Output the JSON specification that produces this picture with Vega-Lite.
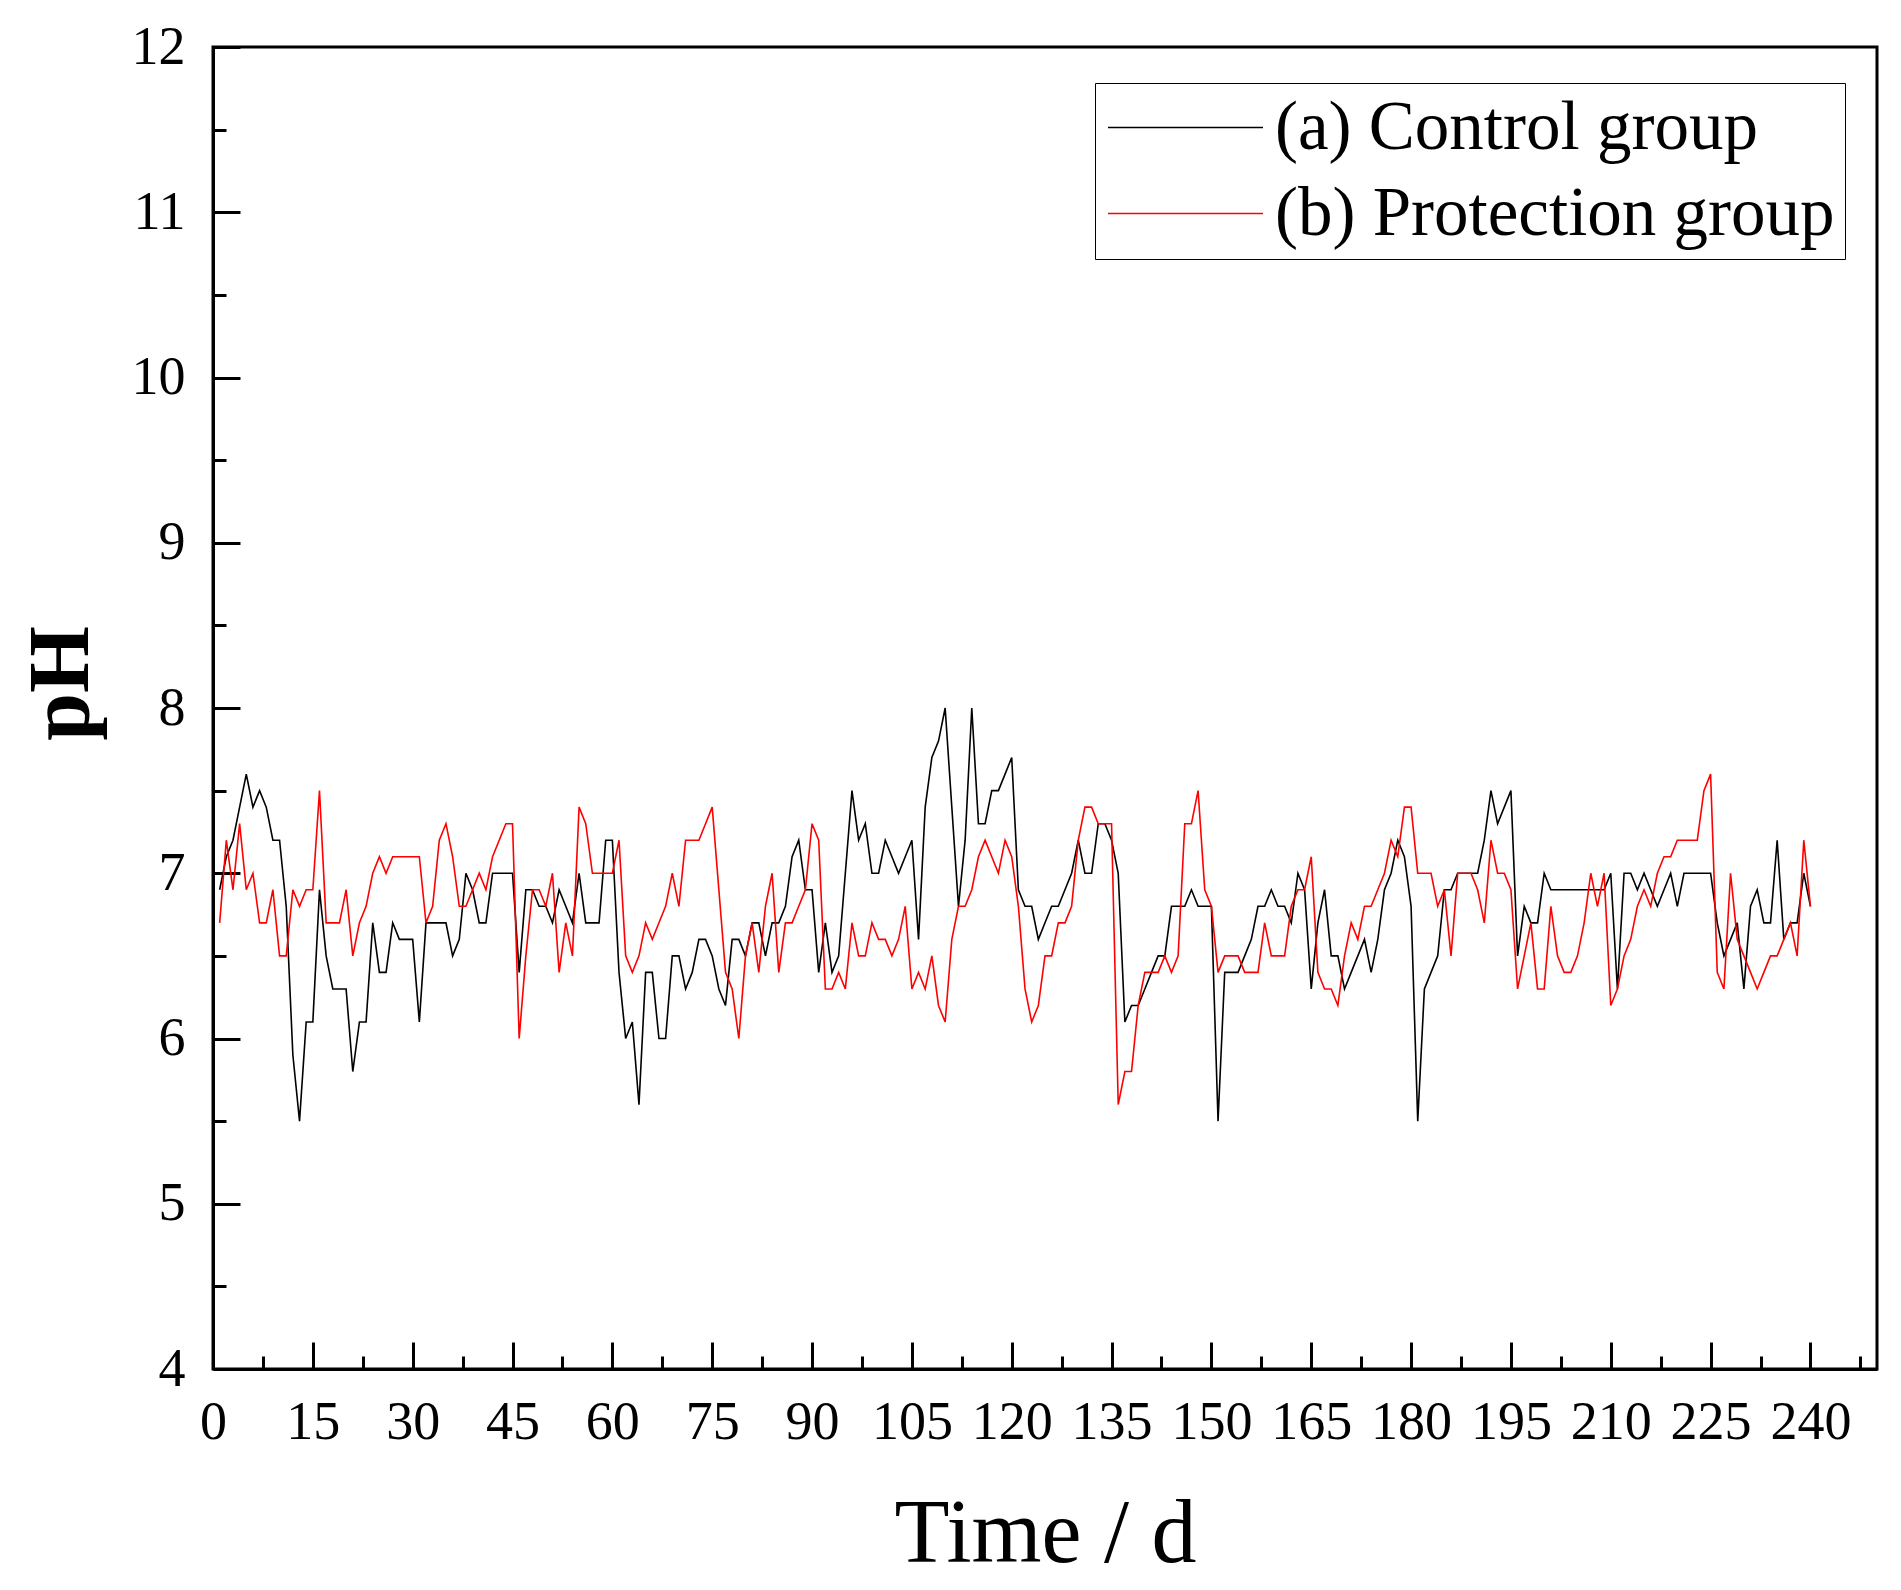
{
  "$schema": "https://vega.github.io/schema/vega-lite/v6.json",
  "width": 1664,
  "height": 1322,
  "autosize": {"type": "none"},
  "padding": {"left": 213, "top": 47, "right": 24, "bottom": 221},
  "background": "white",
  "config": {
    "view": {"stroke": "black", "strokeWidth": 3},
    "axis": {
      "labelFont": "Liberation Serif",
      "titleFont": "Liberation Serif",
      "labelColor": "black",
      "titleColor": "black",
      "domainColor": "black",
      "domainWidth": 3,
      "tickColor": "black",
      "tickWidth": 3,
      "grid": false,
      "labelOverlap": false,
      "labelBound": false,
      "labelFlush": false
    },
    "legend": {
      "labelFont": "Liberation Serif",
      "labelColor": "black"
    }
  },
  "data": {
    "values": [
      {"day":1,"c":6.9,"p":6.7},{"day":2,"c":7.1,"p":7.2},{"day":3,"c":7.2,"p":6.9},{"day":4,"c":7.4,"p":7.3},{"day":5,"c":7.6,"p":6.9},
      {"day":6,"c":7.4,"p":7.0},{"day":7,"c":7.5,"p":6.7},{"day":8,"c":7.4,"p":6.7},{"day":9,"c":7.2,"p":6.9},{"day":10,"c":7.2,"p":6.5},
      {"day":11,"c":6.8,"p":6.5},{"day":12,"c":5.9,"p":6.9},{"day":13,"c":5.5,"p":6.8},{"day":14,"c":6.1,"p":6.9},{"day":15,"c":6.1,"p":6.9},
      {"day":16,"c":6.9,"p":7.5},{"day":17,"c":6.5,"p":6.7},{"day":18,"c":6.3,"p":6.7},{"day":19,"c":6.3,"p":6.7},{"day":20,"c":6.3,"p":6.9},
      {"day":21,"c":5.8,"p":6.5},{"day":22,"c":6.1,"p":6.7},{"day":23,"c":6.1,"p":6.8},{"day":24,"c":6.7,"p":7.0},{"day":25,"c":6.4,"p":7.1},
      {"day":26,"c":6.4,"p":7.0},{"day":27,"c":6.7,"p":7.1},{"day":28,"c":6.6,"p":7.1},{"day":29,"c":6.6,"p":7.1},{"day":30,"c":6.6,"p":7.1},
      {"day":31,"c":6.1,"p":7.1},{"day":32,"c":6.7,"p":6.7},{"day":33,"c":6.7,"p":6.8},{"day":34,"c":6.7,"p":7.2},{"day":35,"c":6.7,"p":7.3},
      {"day":36,"c":6.5,"p":7.1},{"day":37,"c":6.6,"p":6.8},{"day":38,"c":7.0,"p":6.8},{"day":39,"c":6.9,"p":6.9},{"day":40,"c":6.7,"p":7.0},
      {"day":41,"c":6.7,"p":6.9},{"day":42,"c":7.0,"p":7.1},{"day":43,"c":7.0,"p":7.2},{"day":44,"c":7.0,"p":7.3},{"day":45,"c":7.0,"p":7.3},
      {"day":46,"c":6.4,"p":6.0},{"day":47,"c":6.9,"p":6.5},{"day":48,"c":6.9,"p":6.9},{"day":49,"c":6.8,"p":6.9},{"day":50,"c":6.8,"p":6.8},
      {"day":51,"c":6.7,"p":7.0},{"day":52,"c":6.9,"p":6.4},{"day":53,"c":6.8,"p":6.7},{"day":54,"c":6.7,"p":6.5},{"day":55,"c":7.0,"p":7.4},
      {"day":56,"c":6.7,"p":7.3},{"day":57,"c":6.7,"p":7.0},{"day":58,"c":6.7,"p":7.0},{"day":59,"c":7.2,"p":7.0},{"day":60,"c":7.2,"p":7.0},
      {"day":61,"c":6.4,"p":7.2},{"day":62,"c":6.0,"p":6.5},{"day":63,"c":6.1,"p":6.4},{"day":64,"c":5.6,"p":6.5},{"day":65,"c":6.4,"p":6.7},
      {"day":66,"c":6.4,"p":6.6},{"day":67,"c":6.0,"p":6.7},{"day":68,"c":6.0,"p":6.8},{"day":69,"c":6.5,"p":7.0},{"day":70,"c":6.5,"p":6.8},
      {"day":71,"c":6.3,"p":7.2},{"day":72,"c":6.4,"p":7.2},{"day":73,"c":6.6,"p":7.2},{"day":74,"c":6.6,"p":7.3},{"day":75,"c":6.5,"p":7.4},
      {"day":76,"c":6.3,"p":6.9},{"day":77,"c":6.2,"p":6.4},{"day":78,"c":6.6,"p":6.3},{"day":79,"c":6.6,"p":6.0},{"day":80,"c":6.5,"p":6.5},
      {"day":81,"c":6.7,"p":6.7},{"day":82,"c":6.7,"p":6.4},{"day":83,"c":6.5,"p":6.8},{"day":84,"c":6.7,"p":7.0},{"day":85,"c":6.7,"p":6.4},
      {"day":86,"c":6.8,"p":6.7},{"day":87,"c":7.1,"p":6.7},{"day":88,"c":7.2,"p":6.8},{"day":89,"c":6.9,"p":6.9},{"day":90,"c":6.9,"p":7.3},
      {"day":91,"c":6.4,"p":7.2},{"day":92,"c":6.7,"p":6.3},{"day":93,"c":6.4,"p":6.3},{"day":94,"c":6.5,"p":6.4},{"day":95,"c":7.0,"p":6.3},
      {"day":96,"c":7.5,"p":6.7},{"day":97,"c":7.2,"p":6.5},{"day":98,"c":7.3,"p":6.5},{"day":99,"c":7.0,"p":6.7},{"day":100,"c":7.0,"p":6.6},
      {"day":101,"c":7.2,"p":6.6},{"day":102,"c":7.1,"p":6.5},{"day":103,"c":7.0,"p":6.6},{"day":104,"c":7.1,"p":6.8},{"day":105,"c":7.2,"p":6.3},
      {"day":106,"c":6.6,"p":6.4},{"day":107,"c":7.4,"p":6.3},{"day":108,"c":7.7,"p":6.5},{"day":109,"c":7.8,"p":6.2},{"day":110,"c":8.0,"p":6.1},
      {"day":111,"c":7.4,"p":6.6},{"day":112,"c":6.8,"p":6.8},{"day":113,"c":7.2,"p":6.8},{"day":114,"c":8.0,"p":6.9},{"day":115,"c":7.3,"p":7.1},
      {"day":116,"c":7.3,"p":7.2},{"day":117,"c":7.5,"p":7.1},{"day":118,"c":7.5,"p":7.0},{"day":119,"c":7.6,"p":7.2},{"day":120,"c":7.7,"p":7.1},
      {"day":121,"c":6.9,"p":6.8},{"day":122,"c":6.8,"p":6.3},{"day":123,"c":6.8,"p":6.1},{"day":124,"c":6.6,"p":6.2},{"day":125,"c":6.7,"p":6.5},
      {"day":126,"c":6.8,"p":6.5},{"day":127,"c":6.8,"p":6.7},{"day":128,"c":6.9,"p":6.7},{"day":129,"c":7.0,"p":6.8},{"day":130,"c":7.2,"p":7.2},
      {"day":131,"c":7.0,"p":7.4},{"day":132,"c":7.0,"p":7.4},{"day":133,"c":7.3,"p":7.3},{"day":134,"c":7.3,"p":7.3},{"day":135,"c":7.2,"p":7.3},
      {"day":136,"c":7.0,"p":5.6},{"day":137,"c":6.1,"p":5.8},{"day":138,"c":6.2,"p":5.8},{"day":139,"c":6.2,"p":6.2},{"day":140,"c":6.3,"p":6.4},
      {"day":141,"c":6.4,"p":6.4},{"day":142,"c":6.5,"p":6.4},{"day":143,"c":6.5,"p":6.5},{"day":144,"c":6.8,"p":6.4},{"day":145,"c":6.8,"p":6.5},
      {"day":146,"c":6.8,"p":7.3},{"day":147,"c":6.9,"p":7.3},{"day":148,"c":6.8,"p":7.5},{"day":149,"c":6.8,"p":6.9},{"day":150,"c":6.8,"p":6.8},
      {"day":151,"c":5.5,"p":6.4},{"day":152,"c":6.4,"p":6.5},{"day":153,"c":6.4,"p":6.5},{"day":154,"c":6.4,"p":6.5},{"day":155,"c":6.5,"p":6.4},
      {"day":156,"c":6.6,"p":6.4},{"day":157,"c":6.8,"p":6.4},{"day":158,"c":6.8,"p":6.7},{"day":159,"c":6.9,"p":6.5},{"day":160,"c":6.8,"p":6.5},
      {"day":161,"c":6.8,"p":6.5},{"day":162,"c":6.7,"p":6.8},{"day":163,"c":7.0,"p":6.9},{"day":164,"c":6.9,"p":6.9},{"day":165,"c":6.3,"p":7.1},
      {"day":166,"c":6.7,"p":6.4},{"day":167,"c":6.9,"p":6.3},{"day":168,"c":6.5,"p":6.3},{"day":169,"c":6.5,"p":6.2},{"day":170,"c":6.3,"p":6.5},
      {"day":171,"c":6.4,"p":6.7},{"day":172,"c":6.5,"p":6.6},{"day":173,"c":6.6,"p":6.8},{"day":174,"c":6.4,"p":6.8},{"day":175,"c":6.6,"p":6.9},
      {"day":176,"c":6.9,"p":7.0},{"day":177,"c":7.0,"p":7.2},{"day":178,"c":7.2,"p":7.1},{"day":179,"c":7.1,"p":7.4},{"day":180,"c":6.8,"p":7.4},
      {"day":181,"c":5.5,"p":7.0},{"day":182,"c":6.3,"p":7.0},{"day":183,"c":6.4,"p":7.0},{"day":184,"c":6.5,"p":6.8},{"day":185,"c":6.9,"p":6.9},
      {"day":186,"c":6.9,"p":6.5},{"day":187,"c":7.0,"p":7.0},{"day":188,"c":7.0,"p":7.0},{"day":189,"c":7.0,"p":7.0},{"day":190,"c":7.0,"p":6.9},
      {"day":191,"c":7.2,"p":6.7},{"day":192,"c":7.5,"p":7.2},{"day":193,"c":7.3,"p":7.0},{"day":194,"c":7.4,"p":7.0},{"day":195,"c":7.5,"p":6.9},
      {"day":196,"c":6.5,"p":6.3},{"day":197,"c":6.8,"p":6.5},{"day":198,"c":6.7,"p":6.7},{"day":199,"c":6.7,"p":6.3},{"day":200,"c":7.0,"p":6.3},
      {"day":201,"c":6.9,"p":6.8},{"day":202,"c":6.9,"p":6.5},{"day":203,"c":6.9,"p":6.4},{"day":204,"c":6.9,"p":6.4},{"day":205,"c":6.9,"p":6.5},
      {"day":206,"c":6.9,"p":6.7},{"day":207,"c":6.9,"p":7.0},{"day":208,"c":6.9,"p":6.8},{"day":209,"c":6.9,"p":7.0},{"day":210,"c":7.0,"p":6.2},
      {"day":211,"c":6.3,"p":6.3},{"day":212,"c":7.0,"p":6.5},{"day":213,"c":7.0,"p":6.6},{"day":214,"c":6.9,"p":6.8},{"day":215,"c":7.0,"p":6.9},
      {"day":216,"c":6.9,"p":6.8},{"day":217,"c":6.8,"p":7.0},{"day":218,"c":6.9,"p":7.1},{"day":219,"c":7.0,"p":7.1},{"day":220,"c":6.8,"p":7.2},
      {"day":221,"c":7.0,"p":7.2},{"day":222,"c":7.0,"p":7.2},{"day":223,"c":7.0,"p":7.2},{"day":224,"c":7.0,"p":7.5},{"day":225,"c":7.0,"p":7.6},
      {"day":226,"c":6.7,"p":6.4},{"day":227,"c":6.5,"p":6.3},{"day":228,"c":6.6,"p":7.0},{"day":229,"c":6.7,"p":6.6},{"day":230,"c":6.3,"p":6.5},
      {"day":231,"c":6.8,"p":6.4},{"day":232,"c":6.9,"p":6.3},{"day":233,"c":6.7,"p":6.4},{"day":234,"c":6.7,"p":6.5},{"day":235,"c":7.2,"p":6.5},
      {"day":236,"c":6.6,"p":6.6},{"day":237,"c":6.7,"p":6.7},{"day":238,"c":6.7,"p":6.5},{"day":239,"c":7.0,"p":7.2},{"day":240,"c":6.8,"p":6.8}
    ]
  },
  "transform": [
    {"fold": ["c", "p"], "as": ["group", "pH"]}
  ],
  "mark": {"type": "line", "strokeWidth": 1.6},
  "encoding": {
    "x": {
      "field": "day",
      "type": "quantitative",
      "scale": {"domain": [0, 250], "nice": false, "zero": false},
      "axis": {
        "title": "Time / d",
        "titleFontSize": 90,
        "titleFontWeight": "normal",
        "titlePadding": 27,
        "values": [0, 7.5, 15, 22.5, 30, 37.5, 45, 52.5, 60, 67.5, 75, 82.5, 90, 97.5, 105, 112.5, 120, 127.5, 135, 142.5, 150, 157.5, 165, 172.5, 180, 187.5, 195, 202.5, 210, 217.5, 225, 232.5, 240, 247.5],
        "labelExpr": "datum.value % 15 === 0 ? format(datum.value, 'd') : ''",
        "labelFontSize": 54,
        "labelPadding": 53,
        "tickSize": {"condition": {"test": "datum.value % 15 === 0", "value": -27}, "value": -13}
      }
    },
    "y": {
      "field": "pH",
      "type": "quantitative",
      "scale": {"domain": [4, 12], "nice": false, "zero": false},
      "axis": {
        "title": "pH",
        "titleFontSize": 86,
        "titleFontWeight": "bold",
        "titlePadding": 26,
        "titleY": 636,
        "values": [4, 4.5, 5, 5.5, 6, 6.5, 7, 7.5, 8, 8.5, 9, 9.5, 10, 10.5, 11, 11.5, 12],
        "labelExpr": "datum.value % 1 === 0 ? format(datum.value, 'd') : ''",
        "labelFontSize": 54,
        "labelPadding": 55,
        "tickSize": {"condition": {"test": "datum.value % 1 === 0", "value": -27}, "value": -13}
      }
    },
    "color": {
      "field": "group",
      "type": "nominal",
      "scale": {"domain": ["c", "p"], "range": ["#000000", "#ff0000"]},
      "legend": {
        "title": null,
        "orient": "none",
        "legendX": 882,
        "legendY": 36,
        "labelExpr": "datum.label === 'c' ? '(a) Control group' : '(b) Protection group'",
        "labelFontSize": 69,
        "symbolType": "M-2.5,0H2.5",
        "symbolSize": 3844,
        "symbolStrokeWidth": 1.6,
        "symbolOffset": 46,
        "labelOffset": 55,
        "rowPadding": 16,
        "padding": 10,
        "strokeColor": "black",
        "fillColor": "white",
        "labelLimit": 0
      }
    }
  }
}
